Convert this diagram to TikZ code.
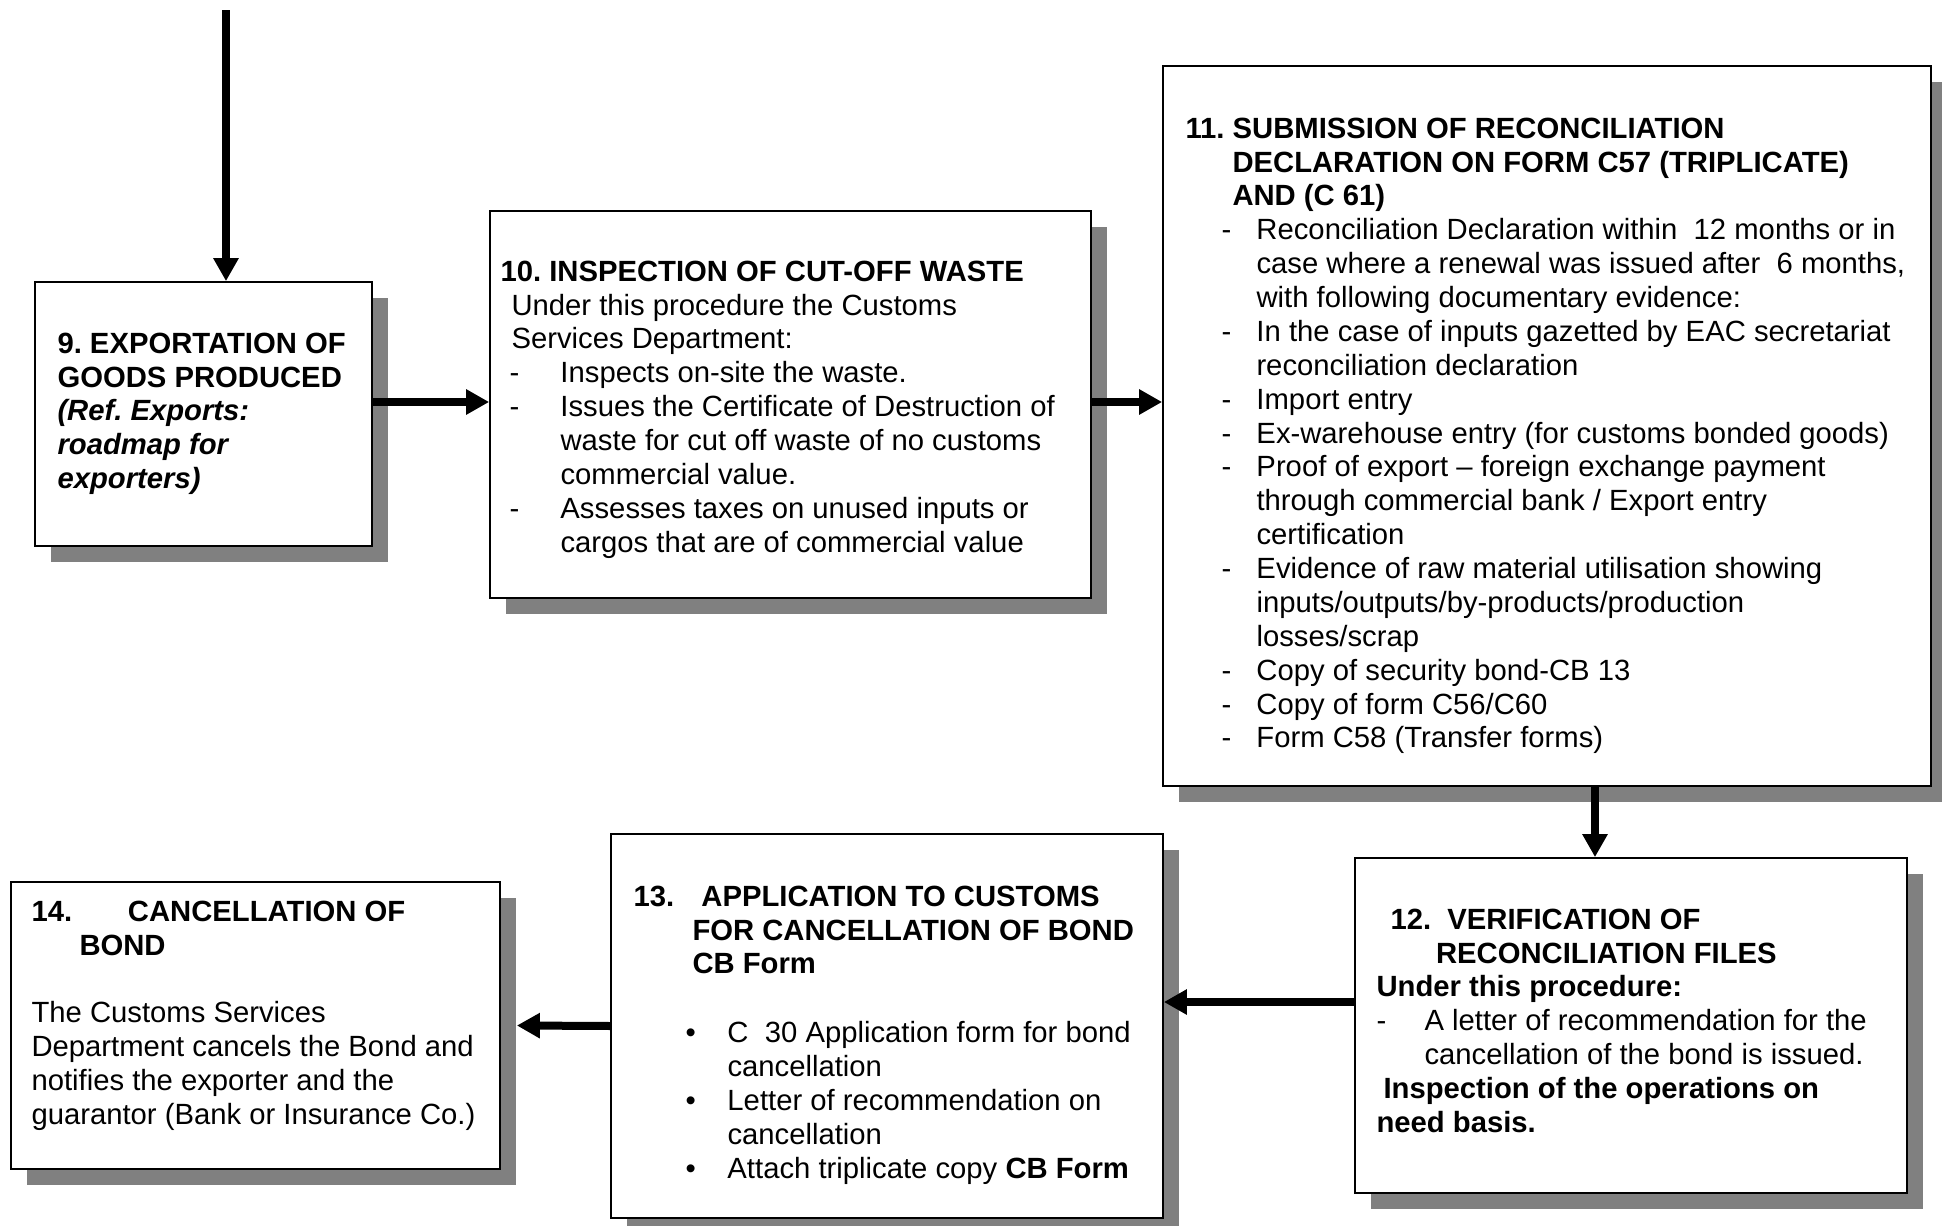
\documentclass[tikz,border=0pt]{standalone}
\usepackage{fontspec}
\setmainfont{Liberation Sans}
\usetikzlibrary{arrows.meta,shadows}
\frenchspacing

% a dash item: indent, dash column width, text
\newcommand{\dashln}[3]{\hspace*{#1}\makebox[#2][l]{-}#3}
% a bullet item: indent, bullet column width, text
\newcommand{\bulln}[3]{\hspace*{#1}\makebox[#2][l]{\textbullet}#3}
\newcommand{\hs}[1]{\hspace*{#1}}

\begin{document}
\begin{tikzpicture}[x=0.4pt,y=-0.4pt,
  box/.style={draw=black,line width=0.7pt,fill=white,rectangle,inner sep=0pt,
    drop shadow={shadow xshift=6.4pt,shadow yshift=-6.4pt,fill=gray,opacity=1}},
  txt/.style={anchor=north west,inner sep=0pt,align=left,
    font=\fontsize{11.7}{13.55}\selectfont},
  flow/.style={line width=3.2pt,-{Triangle[length=9.2pt,width=9.6pt]}},
]
\fill[white] (0,0) rectangle (1942,1226);
\useasboundingbox (0,0) rectangle (1942,1226);

% boxes
\node[box,minimum width=134.8pt,minimum height=105.6pt] (b9)  at (203.5,414) {};
\node[box,minimum width=240.4pt,minimum height=154.8pt] (b10) at (790.5,404.5) {};
\node[box,minimum width=307.2pt,minimum height=288pt]   (b11) at (1547,426) {};
\node[box,minimum width=220.8pt,minimum height=134pt]   (b12) at (1631,1025.5) {};
\node[box,minimum width=220.8pt,minimum height=153.6pt] (b13) at (887,1026) {};
\node[box,minimum width=195.6pt,minimum height=114.8pt] (b14) at (255.5,1025.5) {};

% texts
\node[txt] (t9) at (57,329) {\strut\textbf{9. EXPORTATION OF}\\
\textbf{GOODS PRODUCED}\\
\textbf{\textit{(Ref. Exports:}}\\
\textbf{\textit{roadmap for}}\\
\textbf{\textit{exporters)}}};

\node[txt] (t10) at (500,257) {\strut\textbf{10. INSPECTION OF CUT-OFF WASTE}\\
\hs{4.4pt}Under this procedure the Customs\\
\hs{4.4pt}Services Department:\\
\dashln{3.6pt}{20.4pt}{Inspects on-site the waste.}\\
\dashln{3.6pt}{20.4pt}{Issues the Certificate of Destruction of}\\
\hs{24pt}waste for cut off waste of no customs\\
\hs{24pt}commercial value.\\
\dashln{3.6pt}{20.4pt}{Assesses taxes on unused inputs or}\\
\hs{24pt}cargos that are of commercial value};

\node[txt] (t11) at (1185,114) {\strut\textbf{11. SUBMISSION OF RECONCILIATION}\\
\hs{18.8pt}\textbf{DECLARATION ON FORM C57 (TRIPLICATE)}\\
\hs{18.8pt}\textbf{AND (C 61)}\\
\dashln{14.4pt}{14pt}{Reconciliation Declaration within~ 12 months or in}\\
\hs{28.4pt}case where a renewal was issued after~ 6 months,\\
\hs{28.4pt}with following documentary evidence:\\
\dashln{14.4pt}{14pt}{In the case of inputs gazetted by EAC secretariat}\\
\hs{28.4pt}reconciliation declaration\\
\dashln{14.4pt}{14pt}{Import entry}\\
\dashln{14.4pt}{14pt}{Ex-warehouse entry (for customs bonded goods)}\\
\dashln{14.4pt}{14pt}{Proof of export – foreign exchange payment}\\
\hs{28.4pt}through commercial bank / Export entry\\
\hs{28.4pt}certification\\
\dashln{14.4pt}{14pt}{Evidence of raw material utilisation showing}\\
\hs{28.4pt}inputs/outputs/by-products/production\\
\hs{28.4pt}losses/scrap\\
\dashln{14.4pt}{14pt}{Copy of security bond-CB 13}\\
\dashln{14.4pt}{14pt}{Copy of form C56/C60}\\
\dashln{14.4pt}{14pt}{Form C58 (Transfer forms)}};

\node[txt] (t12) at (1376,905) {\strut\hs{5.6pt}\textbf{12.~ VERIFICATION OF}\\
\hs{23.8pt}\textbf{RECONCILIATION FILES}\\
\textbf{Under this procedure:}\\
\dashln{0pt}{19.2pt}{A letter of recommendation for the}\\
\hs{19.2pt}cancellation of the bond is issued.\\
\hs{2.8pt}\textbf{Inspection of the operations on}\\
\textbf{need basis.}};

\node[txt] (t13) at (633,882) {\strut\textbf{\makebox[27.2pt][l]{13.}APPLICATION TO CUSTOMS}\\
\hs{23.6pt}\textbf{FOR CANCELLATION OF BOND}\\
\hs{23.6pt}\textbf{CB Form}\\[14pt]
\bulln{20.8pt}{16.8pt}{C~ 30 Application form for bond}\\
\hs{37.6pt}cancellation\\
\bulln{20.8pt}{16.8pt}{Letter of recommendation on}\\
\hs{37.6pt}cancellation\\
\bulln{20.8pt}{16.8pt}{Attach triplicate copy \textbf{CB Form}}};

\node[txt] (t14) at (31,897) {\strut\textbf{\makebox[38.6pt][l]{14.}CANCELLATION OF}\\
\hs{19.2pt}\textbf{BOND}\\[13.5pt]
The Customs Services\\
Department cancels the Bond and\\
notifies the exporter and the\\
guarantor (Bank or Insurance Co.)};

% connectors
\coordinate (src) at (226,10);
\coordinate (r1) at (0,402);
\coordinate (c2) at (1595,0);
\coordinate (r3) at (0,1002);
\draw[flow] (src) -- (src |- b9.north);
\draw[flow] (b9.east |- r1) -- (b10.west |- r1);
\draw[flow] (b10.east |- r1) -- (b11.west |- r1);
\draw[flow] (b11.south -| c2) -- (b12.north -| c2);
\draw[flow] (b12.west |- r3) -- (b13.east |- r3);
\draw[flow] (b13.west) -- ([xshift=6.4pt]b14.east);
\end{tikzpicture}
\end{document}
